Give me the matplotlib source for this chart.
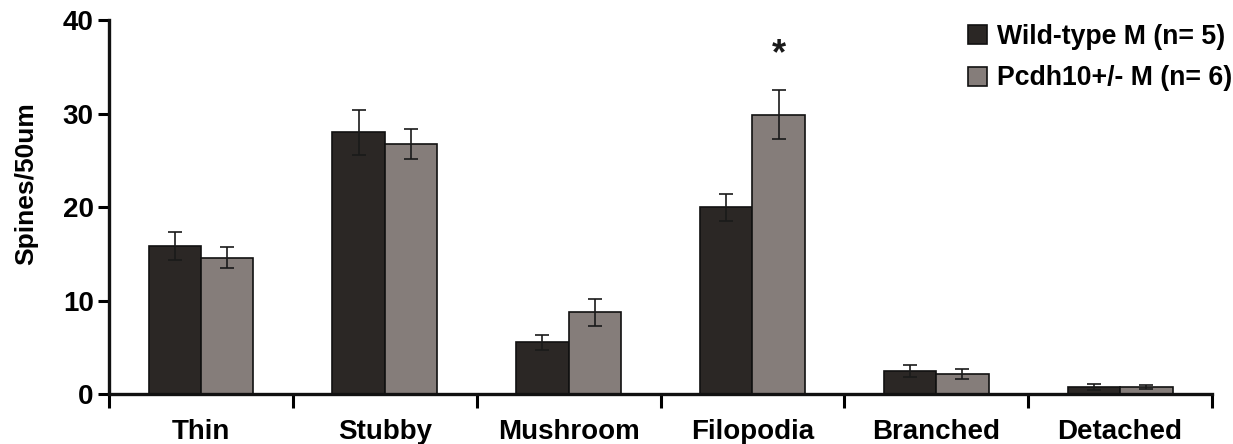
import matplotlib
matplotlib.use("Agg")
import matplotlib.pyplot as plt
import numpy as np

categories = ["Thin", "Stubby", "Mushroom", "Filopodia", "Branched", "Detached"]
wt_mean = [15.9, 28.0, 5.6, 20.0, 2.5, 0.8]
wt_err = [1.5, 2.4, 0.8, 1.45, 0.6, 0.3]
het_mean = [14.6, 26.8, 8.8, 29.9, 2.2, 0.8]
het_err = [1.1, 1.6, 1.45, 2.6, 0.5, 0.2]
series_labels = ["Wild-type M (n= 5)", "Pcdh10+/- M (n= 6)"]
sig_marks = ["", "", "", "*", "", ""]

plt.rcParams["font.family"] = ["Liberation Sans", "DejaVu Sans"]
plt.rcParams["font.weight"] = "bold"

fig = plt.figure(figsize=(12.33, 4.44), dpi=100)
ax = fig.add_axes([0.0884, 0.1115, 0.8946, 0.8435])

x = np.arange(len(categories))
w = 0.285
wt_color = "#2b2725"
het_color = "#857d7a"
ek = dict(ecolor="#1a1a1a", elinewidth=1.2, capsize=5, capthick=1.2)

ax.bar(x - w / 2, wt_mean, w, yerr=wt_err, color=wt_color,
       edgecolor="#111111", linewidth=1.2, error_kw=ek, label=series_labels[0])
ax.bar(x + w / 2, het_mean, w, yerr=het_err, color=het_color,
       edgecolor="#111111", linewidth=1.2, error_kw=ek, label=series_labels[1])

for i, m in enumerate(sig_marks):
    if m:
        top = max(wt_mean[i] + wt_err[i], het_mean[i] + het_err[i])
        xi = x[i] + w / 2 if het_mean[i] >= wt_mean[i] else x[i] - w / 2
        ax.text(xi, top + 3.8, m, ha="center", va="center", fontsize=26,
                fontweight="bold", color="#1a1a1a")

ax.set_xlim(-0.5, len(categories) - 0.5)
ax.set_ylim(0, 40)
ax.set_yticks([0, 10, 20, 30, 40])
ax.set_ylabel("Spines/50um", fontsize=19, fontweight="bold")
ax.yaxis.set_label_coords(-0.064, 0.562)

# category boundaries get the visible ticks, labels sit between them
ax.set_xticks(np.arange(-0.5, len(categories), 1.0))
ax.set_xticklabels([])
ax.set_xticks(x, minor=True)
ax.set_xticklabels(categories, minor=True)
ax.tick_params(axis="x", which="major", direction="out", length=10, width=2.2)
ax.tick_params(axis="x", which="minor", length=0, pad=18, labelsize=20)
ax.tick_params(axis="y", direction="out", length=8, width=2.2, labelsize=20, pad=3)

for s in ["top", "right"]:
    ax.spines[s].set_visible(False)
for s in ["left", "bottom"]:
    ax.spines[s].set_linewidth(2.4)
    ax.spines[s].set_color("#111111")

leg = fig.legend(loc="upper left", bbox_to_anchor=(968 / 1233, 1 - 24 / 444),
                 frameon=False, fontsize=19.2, handlelength=0.72, handleheight=0.72,
                 handletextpad=0.35, labelspacing=0.58, borderaxespad=0,
                 borderpad=0)
for t in leg.get_texts():
    t.set_fontweight("bold")

fig.savefig("out.png", dpi=100)
